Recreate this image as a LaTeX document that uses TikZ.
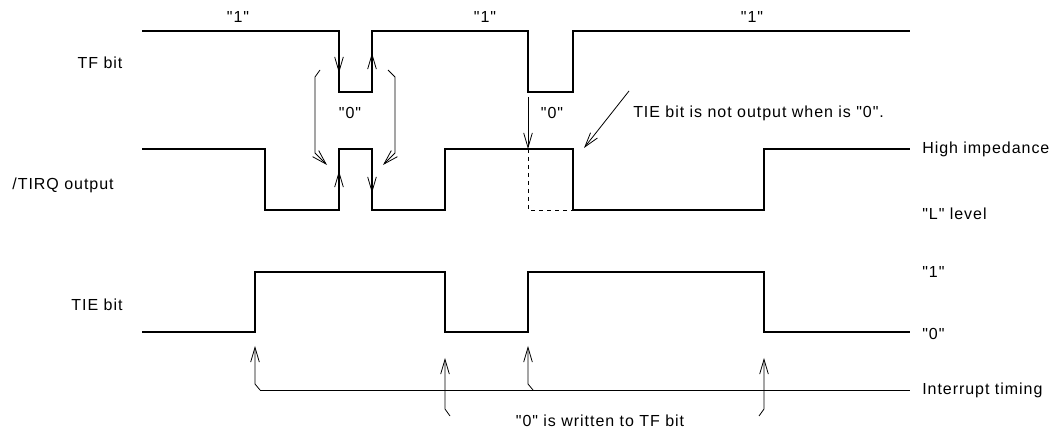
\documentclass[tikz,border=0pt]{standalone}
\usepackage{fontspec}
\setmainfont{Liberation Sans}[LetterSpace=6, Ligatures=TeXOff]
\usetikzlibrary{arrows.meta,positioning}
\newcommand\qu[1]{"#1"}

\begin{document}
\begin{tikzpicture}[x=0.75pt,y=-0.75pt,
    wave/.style={line width=2.1pt, line join=miter},
    lead/.style={line width=0.6pt},
    tip/.style={lead, -{Straight Barb[length=11pt,width=6.5pt]}},
    lbl/.style={inner sep=0pt, font=\fontsize{12}{14}\selectfont}]
  \useasboundingbox (0,0) rectangle (1056,434);

  % signal names
  \node[lbl] (tfname)   at (100,63)  {TF bit};
  \node[lbl] (tirqname) at (63,185)  {/TIRQ output};
  \node[lbl] (tiename)  at (97,305)  {TIE bit};

  % levels on the right
  \node[lbl, anchor=west] (hiz)   at (922,149) {High impedance};
  \node[lbl, anchor=west] (llev)  at (922,214) {\qu{L} level};
  \node[lbl, anchor=west] (one)   at (922,272) {\qu{1}};
  \node[lbl, anchor=west] (zero)  at (922,334) {\qu{0}};
  \node[lbl, anchor=west] (inttm) at (922,390) {Interrupt timing};

  % TF bit values
  \node[lbl] (tfa) at (238,17)  {\qu{1}};
  \node[lbl] (tfb) at (485,17)  {\qu{1}};
  \node[lbl] (tfc) at (752,17)  {\qu{1}};
  \node[lbl] (tfz) at (350,113) {\qu{0}};
  \node[lbl] (tfy) at (552,113) {\qu{0}};

  \node[lbl, anchor=west] (note) at (633,113) {TIE bit is not output when is \qu{0}.};
  \node[lbl] (wrtn) at (600,421) {\qu{0} is written to TF bit};

  % waveforms
  \draw[wave] (142,31) -- (339,31) -- (339,92) -- (372,92) -- (372,31)
    -- (528,31) -- (528,92) -- (573,92) -- (573,31) -- (910,31);
  \draw[wave] (142,149) -- (265,149) -- (265,210) -- (339,210) -- (339,149)
    -- (372,149) -- (372,210) -- (445,210) -- (445,149) -- (573,149)
    -- (573,210) -- (764,210) -- (764,149) -- (910,149);
  \draw[lead, dashed] (528,149) -- (528,210) -- (573,210);
  \draw[wave] (142,332) -- (255,332) -- (255,272) -- (445,272) -- (445,332)
    -- (528,332) -- (528,272) -- (764,272) -- (764,332) -- (910,332);

  % edges of the clear pulse
  \draw[tip] (339,56) -- (339,73);
  \draw[tip] (372,70) -- (372,53);
  \draw[tip] (339,188) -- (339,171);
  \draw[tip] (372,176) -- (372,193);
  \draw[tip] (320,70) -- (315,77) -- (315,153) -- (327,165);
  \draw[tip] (388,70) -- (395,77) -- (395,153) -- (383,165);
  \draw[tip] (528,97) -- (528,149);
  \draw[tip] (629,91) -- (584,148);

  % interrupt timing and TF writes
  \coordinate (itl) at (260,390);
  \draw[lead] (itl) -- ([xshift=-9pt]inttm.west);
  \draw[tip] (itl) -- (255,384) -- (255,346);
  \draw[tip] (533,390) -- (528,384) -- (528,346);
  \draw[tip] (450,416) -- (445,409) -- (445,358);
  \draw[tip] (759,416) -- (764,409) -- (764,358);
\end{tikzpicture}
\end{document}
